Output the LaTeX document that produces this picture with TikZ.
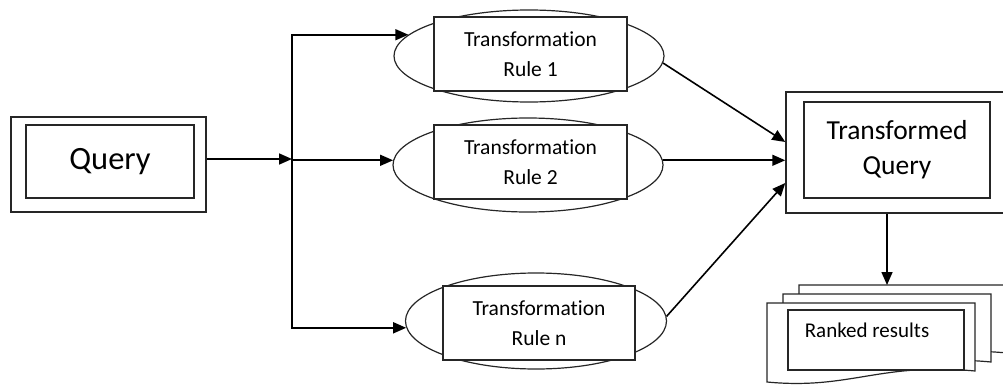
\documentclass[tikz,border=0pt]{standalone}
\usepackage{fontspec}
\setmainfont{Carlito}[Ligatures=NoCommon]
\usetikzlibrary{arrows.meta,shapes.geometric,calc}

\begin{document}
\begin{tikzpicture}[x=1pt,y=-1pt,
  box/.style={draw=black!85,line width=1.5pt,fill=white,inner sep=0pt},
  oval/.style={ellipse,draw=black!85,line width=1.2pt,inner sep=0pt},
  arr/.style={draw=black,line width=1.6pt,-{Triangle[length=13pt,width=11pt]}},
  rulefont/.style={font=\fontsize{21.5}{30}\selectfont,align=center},
  page/.style={draw=black!85,line width=1.2pt,fill=white},
]
\useasboundingbox (0,0) rectangle (1003,385);
\clip (0,0) rectangle (1003,385);

% input query
\node[box,minimum width=195,minimum height=95] (qo) at (108.5,164.5) {};
\node[box,minimum width=168,minimum height=73,font=\fontsize{32.5}{38}\selectfont] (q) at (110,161.5) {Query};

% transformation rules
\node[oval,minimum width=270,minimum height=92] (e1) at (529,56) {};
\node[box,minimum width=193,minimum height=74,rulefont] (r1) at (530.5,54) {Transformation\\Rule 1};

\node[oval,minimum width=270,minimum height=94] (e2) at (528,165) {};
\node[box,minimum width=193,minimum height=74,rulefont] (r2) at (530.5,162) {Transformation\\Rule 2};

\node[oval,minimum width=261,minimum height=96] (e3) at (536,321) {};
\node[box,minimum width=192,minimum height=74,rulefont] (r3) at (539,323) {Transformation\\Rule n};

% transformed query
\node[box,minimum width=222,minimum height=121] (tqo) at (897,152.5) {};
\node[box,minimum width=186,minimum height=96,font=\fontsize{27.5}{35}\selectfont,align=center] (tq) at (897,150) {Transformed\\Query};

% fan-out from the query
\coordinate (j) at (292,159);
\draw[arr] (qo.east |- j) -- (j);
\draw[arr] (j) |- (e1.170);
\draw[arr] (j) |- (e2.178);
\draw[arr] (j) |- (e3.183);

% rules into the transformed query
\draw[arr] (e1.357) -- ([yshift=10.5pt]tqo.west);
\draw[arr] (e2.2) -- (e2.2 -| tqo.west);
\draw[arr] (e3.2) -- ([yshift=-30.5pt]tqo.west);

% stack of result pages
\foreach \dx/\dy in {32/-18, 16/-9, 0/0} {
  \draw[page,shift={(\dx,\dy)}] (767,303) -- (975,303) -- (975,371)
    .. controls (880,362) and (850,390) .. (767,382) -- cycle;
}
\node[box,minimum width=176,minimum height=60,anchor=north west] (rr) at (787,309) {};
\node[font=\fontsize{21}{26}\selectfont] (rrt) at (867,330) {Ranked results};

\coordinate (stacktop) at (887,285);
\draw[arr] (tqo.south -| stacktop) -- (stacktop);
\end{tikzpicture}
\end{document}
